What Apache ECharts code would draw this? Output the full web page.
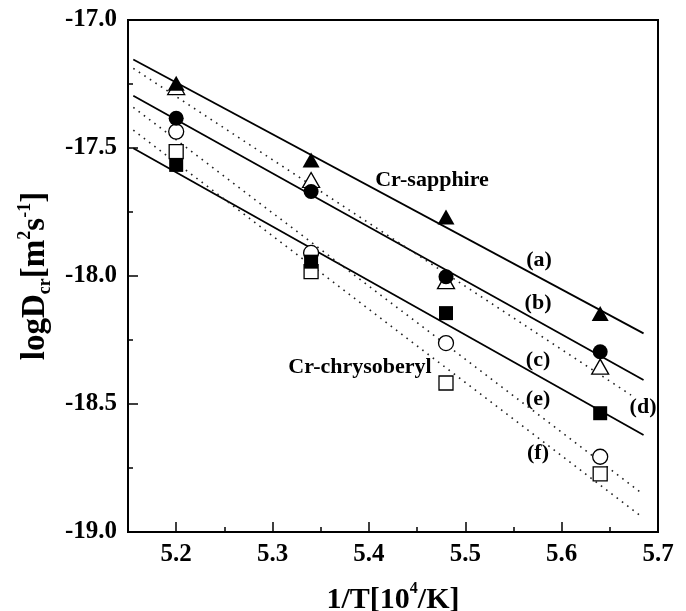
<!DOCTYPE html>
<html>
<head>
<meta charset="utf-8">
<script src="https://cdn.jsdelivr.net/npm/echarts@6/dist/echarts.min.js"></script>
<style>
html,body{margin:0;padding:0;background:#fff;}
#chart{width:686px;height:611px;}
</style>
</head>
<body>
<div id="chart"></div>
<script>
// ---- data ----
const xValues = [5.2, 5.34, 5.48, 5.64];
const filledTriangle = [-17.247, -17.547, -17.77, -18.146];
const openTriangle   = [-17.262, -17.625, -18.02, -18.354];
const filledCircle   = [-17.384, -17.67, -18.003, -18.296];
const openCircle     = [-17.436, -17.91, -18.262, -18.706];
const filledSquare   = [-17.566, -17.944, -18.145, -18.536];
const openSquare     = [-17.514, -17.983, -18.418, -18.773];

// fitted lines (end points)
const solidX = [5.1555, 5.685];
const lineA = [-17.154, -18.224];
const lineB = [-17.296, -18.406];
const lineE = [-17.501, -18.621];
const dotDX = [5.1555, 5.672];
const lineD = [-17.189, -18.465];
const dotX = [5.1555, 5.681];
const lineCircle = [-17.341, -18.842];
const lineSquare = [-17.43, -18.934];

// annotations
const annText = ['(a)', '(b)', '(c)', '(d)', '(e)', '(f)', 'Cr-sapphire', 'Cr-chrysoberyl'];
const annX = [5.5765, 5.5755, 5.5755, 5.6845, 5.5755, 5.5755, 5.4655, 5.3908];
const annY = [-17.9375, -18.105, -18.328, -18.512, -18.48, -18.691, -17.625, -18.355];

const xTicks = [5.2, 5.3, 5.4, 5.5, 5.6, 5.7];
const xMinorTicks = [5.25, 5.35, 5.45, 5.55, 5.65];
const yTicks = [-17.0, -17.5, -18.0, -18.5, -19.0];
const yMinorTicks = [-17.25, -17.75, -18.25, -18.75];

const FONT = "'Liberation Serif','Times New Roman',serif";
const pairs = (xs, ys) => xs.map((x, i) => [x, ys[i]]);

function scatter(name, ys, symbol, size, filled) {
  return {
    name, type: 'scatter', data: pairs(xValues, ys), symbol, symbolSize: size,
    itemStyle: filled ? {color: '#000', opacity: 1}
                      : {color: '#fff', borderColor: '#000', borderWidth: 1.3, opacity: 1},
    z: filled ? 5 : 4
  };
}
function fit(xs, ys, dotted) {
  return {
    type: 'line', data: pairs(xs, ys), symbol: 'none', silent: true,
    lineStyle: dotted ? {color: '#222', width: 1.6, type: [1.6, 5]} : {color: '#000', width: 1.8},
    z: 2
  };
}

const chart = echarts.init(document.getElementById('chart'), null, {renderer: 'canvas'});
chart.setOption({
  backgroundColor: '#fff',
  animation: false,
  grid: {left: 128, right: 28, top: 20, bottom: 79, outerBoundsMode: 'none', containLabel: false,
    show: true, borderColor: '#000', borderWidth: 2},
  xAxis: [{
    type: 'value', min: 5.15, max: 5.7, interval: 0.05, position: 'bottom',
    name: '{b|1/T[10}{sup|4}{b|/K]}', nameLocation: 'middle', nameGap: 49,
    nameTextStyle: {rich: {
      b: {fontFamily: FONT, fontWeight: 'bold', fontSize: 30, lineHeight: 34, verticalAlign: 'bottom'},
      sup: {fontFamily: FONT, fontWeight: 'bold', fontSize: 16, lineHeight: 34, verticalAlign: 'top'}
    }},
    axisLine: {lineStyle: {color: '#000', width: 2}},
    axisTick: {inside: true, length: 10, lineStyle: {color: '#000', width: 1.5}, customValues: xTicks},
    axisLabel: {fontFamily: FONT, fontWeight: 'bold', fontSize: 25, color: '#000', margin: 10,
      customValues: xTicks, formatter: v => v.toFixed(1)},
    splitLine: {show: false}
  }, {
    type: 'value', min: 5.15, max: 5.7, interval: 0.05, position: 'bottom',
    axisLine: {show: false},
    axisTick: {inside: true, length: 5, lineStyle: {color: '#000', width: 1.5}, customValues: xMinorTicks},
    axisLabel: {show: false},
    splitLine: {show: false}
  }],
  yAxis: [{
    type: 'value', min: -19, max: -17, interval: 0.25, position: 'left',
    name: '{b|logD}{sub|cr}{b|[m}{sup|2}{b|s}{sup|-1}{b|]}', nameLocation: 'middle', nameGap: 72, nameRotate: 90,
    nameTextStyle: {rich: {
      b: {fontFamily: FONT, fontWeight: 'bold', fontSize: 33, lineHeight: 38, verticalAlign: 'middle'},
      sub: {fontFamily: FONT, fontWeight: 'bold', fontSize: 18, lineHeight: 38, verticalAlign: 'bottom'},
      sup: {fontFamily: FONT, fontWeight: 'bold', fontSize: 18, lineHeight: 38, verticalAlign: 'top'}
    }},
    axisLine: {lineStyle: {color: '#000', width: 2}},
    axisTick: {inside: true, length: 10, lineStyle: {color: '#000', width: 1.5}, customValues: yTicks},
    axisLabel: {fontFamily: FONT, fontWeight: 'bold', fontSize: 25, color: '#000', margin: 11,
      customValues: yTicks, formatter: v => v.toFixed(1)},
    splitLine: {show: false}
  }, {
    type: 'value', min: -19, max: -17, interval: 0.25, position: 'left',
    axisLine: {show: false},
    axisTick: {inside: true, length: 5, lineStyle: {color: '#000', width: 1.5}, customValues: yMinorTicks},
    axisLabel: {show: false},
    splitLine: {show: false}
  }],
  series: [
    fit(solidX, lineA, false),
    fit(solidX, lineB, false),
    fit(solidX, lineE, false),
    fit(dotDX, lineD, true),
    fit(dotX, lineCircle, true),
    fit(dotX, lineSquare, true),
    scatter('open triangle', openTriangle, 'triangle', [17, 15], false),
    scatter('open circle', openCircle, 'circle', 15, false),
    scatter('open square', openSquare, 'rect', 14, false),
    scatter('filled triangle', filledTriangle, 'triangle', [17, 15], true),
    scatter('filled circle', filledCircle, 'circle', 15, true),
    scatter('filled square', filledSquare, 'rect', 14, true),
    {
      type: 'scatter', symbolSize: 0, silent: true, z: 6,
      itemStyle: {opacity: 1},
      data: annText.map((t, i) => ({value: [annX[i], annY[i]], name: t})),
      label: {show: true, position: 'inside', formatter: p => p.name, opacity: 1,
        fontFamily: FONT, fontWeight: 'bold', fontSize: 22, color: '#000'}
    }
  ]
});
</script>
</body>
</html>
